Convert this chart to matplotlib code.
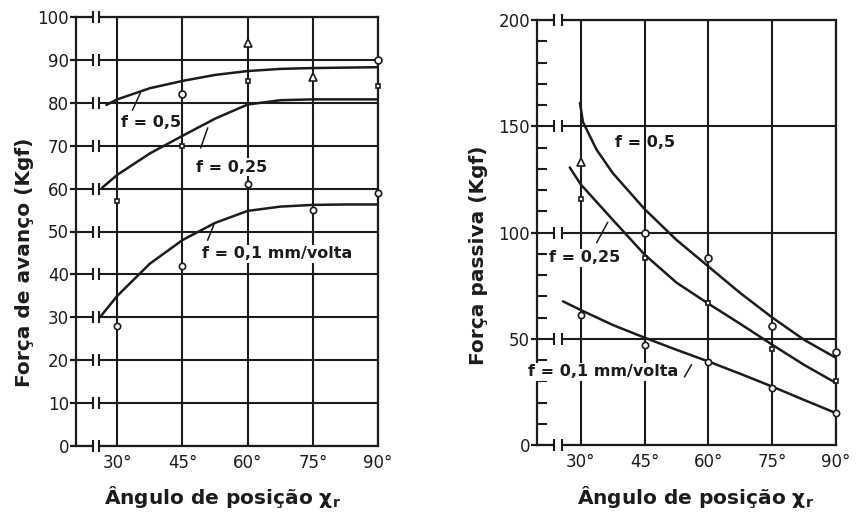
import matplotlib
matplotlib.use('Agg')
import matplotlib.pyplot as plt
from matplotlib.ticker import MultipleLocator

plt.rcParams['font.family'] = ['DejaVu Sans']

# ---------------- data ----------------
angles = [30, 45, 60, 75, 90]
angle_labels = ['30°', '45°', '60°', '75°', '90°']

# Left chart: Força de avanço (Kgf)
left_yticks = [0, 10, 20, 30, 40, 50, 60, 70, 80, 90, 100]

left_c05_x = [27.5, 30, 37.5, 45, 52.5, 60, 67.5, 75, 82.5, 90]
left_c05_y = [79.5, 80.8, 83.4, 85.1, 86.5, 87.4, 87.9, 88.1, 88.2, 88.3]
left_c025_x = [26.5, 30, 37.5, 45, 52.5, 60, 67.5, 75, 82.5, 90]
left_c025_y = [60.2, 63.2, 68.2, 72.3, 76.3, 79.6, 80.6, 80.8, 80.8, 80.8]
left_c01_x = [26, 30, 37.5, 45, 52.5, 60, 67.5, 75, 82.5, 90]
left_c01_y = [30, 35, 42.5, 48, 52, 54.8, 55.8, 56.2, 56.3, 56.3]

left_p05_x = [45, 60, 75, 90]
left_p05_y = [82, 94, 86, 90]
left_p05_m = ['o', '^', '^', 'o']
left_p025_x = [30, 45, 60, 90]
left_p025_y = [57, 70, 85, 84]
left_p01_x = [30, 45, 60, 75, 90]
left_p01_y = [28, 42, 61, 55, 59]

# Right chart: Força passiva (Kgf)
right_yticks = [0, 50, 100, 150, 200]

right_c05_x = [29.8, 30.5, 33.7, 37.5, 45, 52.5, 60, 67.5, 75, 82.5, 90]
right_c05_y = [161, 152, 139, 128, 111, 96.5, 84, 71.5, 60, 49.5, 41]
right_c025_x = [27.4, 30, 37.5, 45, 52.5, 60, 67.5, 75, 82.5, 90]
right_c025_y = [130.6, 122.6, 106, 89.6, 76.4, 66.5, 57, 47.2, 37.7, 29.2]
right_c01_x = [25.8, 30, 37.5, 45, 52.5, 60, 67.5, 75, 82.5, 90]
right_c01_y = [67.6, 63.5, 56.5, 50.5, 44.8, 39.3, 33.5, 27.5, 21.2, 15]

right_p05_y = [133, 100, 88, 56, 44]
right_p05_m = ['^', 'o', 'o', 'o', 'o']
right_p025_y = [116, 88, 67, 45, 30]
right_p01_y = [61, 47, 39, 27, 15]

lab05 = 'f = 0,5'
lab025 = 'f = 0,25'
lab01 = 'f = 0,1 mm/volta'

INK = '#1c1c1c'

fig = plt.figure(figsize=(8.56, 5.14), dpi=100)
ax1 = fig.add_axes([76/856, 68/514, 302/856, 429/514])
ax2 = fig.add_axes([537/856, 69/514, 299/856, 425/514])


def style(ax, xlim, ylim, yticks, brk):
    ax.set_xlim(*xlim)
    ax.set_ylim(*ylim)
    ax.set_xticks(angles)
    ax.set_xticklabels(angle_labels)
    ax.set_yticks(yticks)
    for s in ax.spines.values():
        s.set_linewidth(1.6)
        s.set_color(INK)
    ax.tick_params(axis='x', length=0, pad=6, labelsize=12, colors=INK)
    ax.tick_params(axis='y', which='major', length=4, width=1.6, pad=1,
                   labelsize=12, colors=INK)
    for a in angles:
        ax.axvline(a, color=INK, lw=1.5, zorder=1)
    for h in yticks:
        ax.axhline(h, color=INK, lw=1.5, zorder=1)
        ax.plot(brk, [h, h], color='white', lw=5, solid_capstyle='butt',
                zorder=2.6, clip_on=False)
        ax.plot(brk, [h, h], ls='none', marker='|', ms=8, mew=1.5,
                color=INK, zorder=2.7, clip_on=False)


style(ax1, (20.5, 90), (0, 100), left_yticks, [24.3, 25.7])
style(ax2, (19.7, 90), (0, 200), right_yticks, [23.7, 25.5])
ax2.yaxis.set_minor_locator(MultipleLocator(10))
ax2.tick_params(axis='y', which='minor', direction='in', length=7,
                width=1.5, colors=INK)

# curves
for ax, (x, y) in [(ax1, (left_c05_x, left_c05_y)),
                   (ax1, (left_c025_x, left_c025_y)),
                   (ax1, (left_c01_x, left_c01_y)),
                   (ax2, (right_c05_x, right_c05_y)),
                   (ax2, (right_c025_x, right_c025_y)),
                   (ax2, (right_c01_x, right_c01_y))]:
    ax.plot(x, y, color=INK, lw=1.8, zorder=3, solid_capstyle='round')

mk = dict(ls='none', color=INK, mfc='white', mew=1.2, zorder=4, clip_on=False)
for x, y, m in zip(left_p05_x, left_p05_y, left_p05_m):
    ax1.plot([x], [y], marker=m, ms=6 if m == '^' else 5, **mk)
ax1.plot(left_p025_x, left_p025_y, marker='s', ms=3.5, **mk)
ax1.plot(left_p01_x, left_p01_y, marker='o', ms=4.5, **mk)
for x, y, m in zip(angles, right_p05_y, right_p05_m):
    ax2.plot([x], [y], marker=m, ms=6 if m == '^' else 5, **mk)
ax2.plot(angles, right_p025_y, marker='s', ms=3.5, **mk)
ax2.plot(angles, right_p01_y, marker='o', ms=4.5, **mk)

bb = dict(facecolor='white', edgecolor='none', pad=1.0)
tk = dict(fontsize=11.5, fontweight='bold', color=INK, ha='center',
          va='center', zorder=6)
# left annotations
ax1.text(37.8, 75.3, lab05, **tk)
ax1.plot([33.5, 35.3], [78.3, 82.3], color=INK, lw=1.1, zorder=5)
ax1.text(56.3, 65.0, lab025, bbox=bb, **tk)
ax1.plot([49.2, 50.8], [69.5, 74.1], color=INK, lw=1.1, zorder=5)
ax1.text(66.7, 44.8, lab01, bbox=bb, **tk)
ax1.plot([50.8, 52.2], [48.0, 51.5], color=INK, lw=1.1, zorder=5)
# right annotations
ax2.text(45.2, 142.5, lab05, **tk)
ax2.text(30.9, 88.2, lab025, bbox=bb, **tk)
ax2.plot([33.75, 36.3], [95.3, 104.7], color=INK, lw=1.1, zorder=5)
ax2.text(35.2, 34.4, lab01, bbox=bb, clip_on=False, **tk)
ax2.plot([54.4, 56.0], [32.1, 37.7], color=INK, lw=1.1, zorder=5)

# axis titles
tt = dict(fontsize=14.5, fontweight='bold', color=INK, ha='center', va='center')
fig.text(25/856, 1 - 262/514, 'Força de avanço (Kgf)', rotation=90, **tt)
fig.text(478/856, 1 - 255/514, 'Força passiva (Kgf)', rotation=90, **tt)
fig.text(222/856, 1 - 497/514, 'Ângulo de posição χ$_\\mathbf{r}$', **tt)
fig.text(695/856, 1 - 497/514, 'Ângulo de posição χ$_\\mathbf{r}$', **tt)

fig.savefig('out.png', dpi=100, facecolor='white')
